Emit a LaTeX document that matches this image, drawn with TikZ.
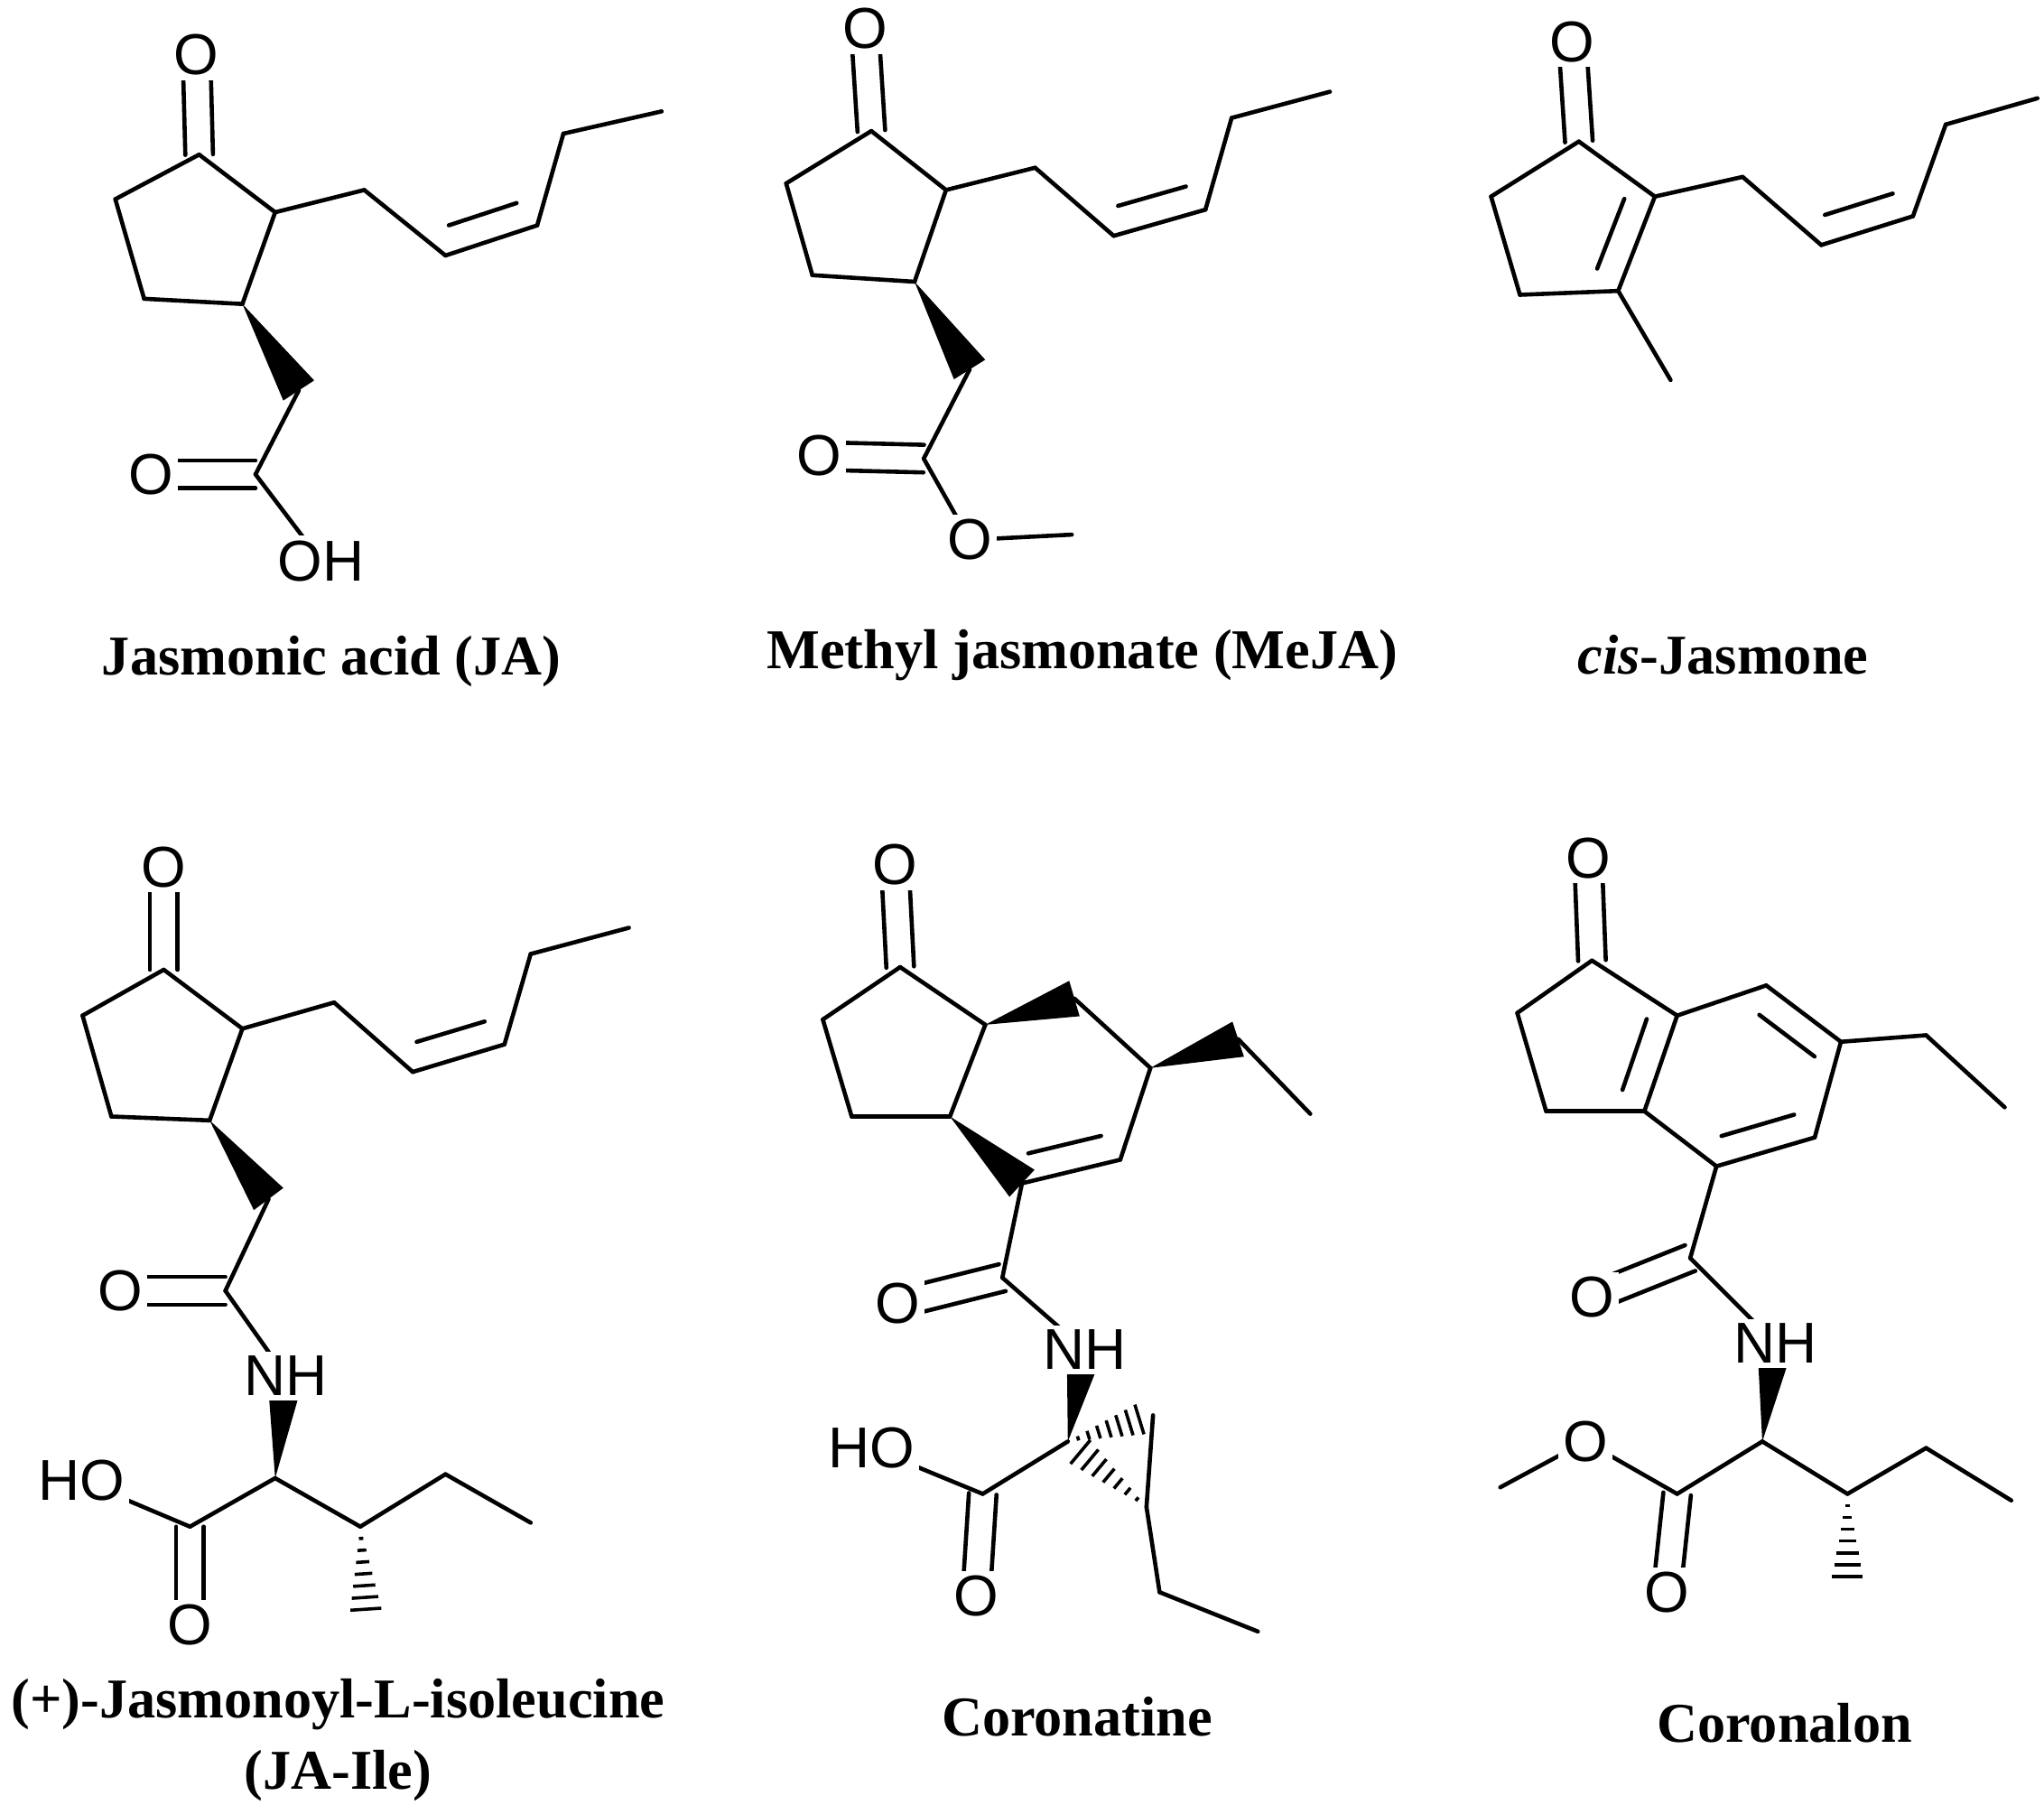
\documentclass[tikz,border=0pt]{standalone}
\usepackage{fontspec}
\setmainfont{Liberation Serif}
\newfontfamily\atomfont{Liberation Sans}
\usetikzlibrary{calc}
\tikzset{bondline/.style={line width=0.9pt,line cap=round,line join=round},
atomlab/.style={fill=white,inner sep=1pt,font=\atomfont\fontsize{12.5}{13}\selectfont},
namelab/.style={font=\bfseries\fontsize{12.2}{15.5}\selectfont,align=center}}
\newcommand\bnd[2]{\draw[bondline] (#1) -- (#2);}
\newcommand\dbnd[3]{\draw[bondline] (#1) -- (#2);
 \draw[bondline] ($(#1)!.13!(#2)!6pt!#3:(#2)$) -- ($(#2)!.13!(#1)!6pt!-#3:(#1)$);}
\newcommand\dbo[3]{\draw[bondline] ($(#1)!3pt!90:(#2)$) -- ($(#2)!3pt!-90:(#1)$);
 \draw[bondline] ($(#1)!3pt!-90:(#2)$) -- ($(#2)!3pt!90:(#1)$);}
\newcommand\wdg[2]{\fill (#1) -- ($(#2)!4pt!90:(#1)$) -- ($(#2)!4pt!-90:(#1)$) -- cycle;}
\newcommand\hsh[2]{\foreach \t in {0.12,0.24,...,0.96}{\draw[line width=0.7pt] ($(#1)!\t!(#2)!\t*4pt!90:(#2)$) -- ($(#1)!\t!(#2)!\t*4pt!-90:(#2)$);}}
\begin{document}
\begin{tikzpicture}[x=0.01cm,y=-0.01cm]
\useasboundingbox (0,0) rectangle (1560,1377);
%% JA
\coordinate (a1) at (152,118); \coordinate (a2) at (210,162); \coordinate (a3) at (185,232);
\coordinate (a4) at (110,228); \coordinate (a5) at (88,152); \coordinate (aO) at (150,42);
\coordinate (ac1) at (278,145); \coordinate (ac2) at (340,195); \coordinate (ac3) at (410,172);
\coordinate (ac4) at (430,102); \coordinate (ac5) at (505,85);
\coordinate (am) at (228,298); \coordinate (ak) at (195,362); \coordinate (aO2) at (115,362);
\coordinate (aOH) at (245,428);
\bnd{a1}{a2}\bnd{a2}{a3}\bnd{a3}{a4}\bnd{a4}{a5}\bnd{a5}{a1}\dbo{a1}{aO}{90}
\bnd{a2}{ac1}\bnd{ac1}{ac2}\dbnd{ac2}{ac3}{90}\bnd{ac3}{ac4}\bnd{ac4}{ac5}
\wdg{a3}{am}\bnd{am}{ak}\dbo{ak}{aO2}{90}\bnd{ak}{aOH}
\node[atomlab] at (aO) {O}; \node[atomlab] at (aO2) {O}; \node[atomlab] at (aOH) {OH};
\node[namelab] (n1) at (253,505) {Jasmonic acid (JA)};
%% MeJA
\coordinate (b1) at (665,100); \coordinate (b2) at (722,145); \coordinate (b3) at (698,215);
\coordinate (b4) at (620,210); \coordinate (b5) at (600,140); \coordinate (bO) at (660,22);
\coordinate (bc1) at (790,128); \coordinate (bc2) at (850,180); \coordinate (bc3) at (920,160);
\coordinate (bc4) at (940,90); \coordinate (bc5) at (1015,70);
\coordinate (bm) at (740,282); \coordinate (bk) at (705,350); \coordinate (bO2) at (625,348);
\coordinate (bOe) at (740,412); \coordinate (bme) at (818,408);
\bnd{b1}{b2}\bnd{b2}{b3}\bnd{b3}{b4}\bnd{b4}{b5}\bnd{b5}{b1}\dbo{b1}{bO}{90}
\bnd{b2}{bc1}\bnd{bc1}{bc2}\dbnd{bc2}{bc3}{90}\bnd{bc3}{bc4}\bnd{bc4}{bc5}
\wdg{b3}{bm}\bnd{bm}{bk}\dbo{bk}{bO2}{90}\bnd{bk}{bOe}\bnd{bOe}{bme}
\node[atomlab] at (bO) {O}; \node[atomlab] at (bO2) {O}; \node[atomlab] at (bOe) {O};
\node[namelab] (n2) at (826,500) {Methyl jasmonate (MeJA)};
%% cis-jasmone
\coordinate (c1) at (1205,108); \coordinate (c2) at (1263,150); \coordinate (c3) at (1235,222);
\coordinate (c4) at (1160,225); \coordinate (c5) at (1138,150); \coordinate (cO) at (1200,32);
\coordinate (cme) at (1275,290);
\coordinate (cc1) at (1330,135); \coordinate (cc2) at (1390,187); \coordinate (cc3) at (1460,165);
\coordinate (cc4) at (1485,95); \coordinate (cc5) at (1555,75);
\bnd{c1}{c2}\dbnd{c2}{c3}{-90}\bnd{c3}{c4}\bnd{c4}{c5}\bnd{c5}{c1}\dbo{c1}{cO}{90}\bnd{c3}{cme}
\bnd{c2}{cc1}\bnd{cc1}{cc2}\dbnd{cc2}{cc3}{90}\bnd{cc3}{cc4}\bnd{cc4}{cc5}
\node[atomlab] at (cO) {O};
\node[namelab] (n3) at (1315,500) {\textit{cis}-Jasmone};
%% JA-Ile
\coordinate (d1) at (125,740); \coordinate (d2) at (185,785); \coordinate (d3) at (160,855);
\coordinate (d4) at (85,852); \coordinate (d5) at (63,775); \coordinate (dO) at (125,662);
\coordinate (dc1) at (255,765); \coordinate (dc2) at (315,818); \coordinate (dc3) at (385,797);
\coordinate (dc4) at (405,728); \coordinate (dc5) at (480,708);
\coordinate (dm) at (205,915); \coordinate (dk) at (172,985); \coordinate (dO2) at (92,985);
\coordinate (dN) at (218,1050); \coordinate (da) at (210,1128); \coordinate (dk2) at (145,1165);
\coordinate (dHO) at (62,1130); \coordinate (dO3) at (145,1240);
\coordinate (db) at (275,1165); \coordinate (dbm) at (280,1240);
\coordinate (dg) at (340,1125); \coordinate (dd) at (405,1162);
\bnd{d1}{d2}\bnd{d2}{d3}\bnd{d3}{d4}\bnd{d4}{d5}\bnd{d5}{d1}\dbo{d1}{dO}{90}
\bnd{d2}{dc1}\bnd{dc1}{dc2}\dbnd{dc2}{dc3}{90}\bnd{dc3}{dc4}\bnd{dc4}{dc5}
\wdg{d3}{dm}\bnd{dm}{dk}\dbo{dk}{dO2}{90}\bnd{dk}{dN}\wdg{da}{dN}
\bnd{da}{dk2}\bnd{dk2}{dHO}\dbo{dk2}{dO3}{90}\bnd{da}{db}\hsh{db}{dbm}\bnd{db}{dg}\bnd{dg}{dd}
\node[atomlab] at (dO) {O}; \node[atomlab] at (dO2) {O}; \node[atomlab] at (dN) {NH};
\node[atomlab] at (dHO) {HO}; \node[atomlab] at (dO3) {O};
\node[namelab] (n4) at (258,1328) {(+)-Jasmonoyl-L-isoleucine\\(JA-Ile)};
%% Coronatine
\coordinate (e1) at (687,738); \coordinate (e7a) at (752,782); \coordinate (e3a) at (725,852);
\coordinate (e3) at (650,852); \coordinate (e2) at (628,778); \coordinate (eO) at (683,660);
\coordinate (e7) at (820,762); \coordinate (e6) at (878,815); \coordinate (e5) at (855,885);
\coordinate (e4) at (780,903);
\coordinate (ee1) at (945,793); \coordinate (ee2) at (1000,850);
\coordinate (ek) at (765,975); \coordinate (eO2) at (685,995); \coordinate (eN) at (828,1030);
\coordinate (ea) at (815,1100); \coordinate (ep1) at (880,1080); \coordinate (ep2) at (875,1150);
\coordinate (ek2) at (750,1140); \coordinate (eHO) at (665,1105); \coordinate (eO3) at (745,1218);
\coordinate (ef1) at (885,1215); \coordinate (ef2) at (960,1245);
\bnd{e1}{e7a}\bnd{e3a}{e3}\bnd{e3}{e2}\bnd{e2}{e1}\bnd{e7a}{e3a}\dbo{e1}{eO}{90}
\wdg{e7a}{e7}\bnd{e7}{e6}\bnd{e6}{e5}\dbnd{e5}{e4}{-90}\wdg{e3a}{e4}
\wdg{e6}{ee1}\bnd{ee1}{ee2}
\bnd{e4}{ek}\dbo{ek}{eO2}{90}\bnd{ek}{eN}\wdg{ea}{eN}
\hsh{ea}{ep1}\bnd{ep1}{ep2}\hsh{ep2}{ea}
\bnd{ea}{ek2}\bnd{ek2}{eHO}\dbo{ek2}{eO3}{90}\bnd{ep2}{ef1}\bnd{ef1}{ef2}
\node[atomlab] at (eO) {O}; \node[atomlab] at (eO2) {O}; \node[atomlab] at (eN) {NH};
\node[atomlab] at (eHO) {HO}; \node[atomlab] at (eO3) {O};
\node[namelab] (n5) at (822,1310) {Coronatine};
%% Coronalon
\coordinate (f1) at (1215,733); \coordinate (f7a) at (1280,775); \coordinate (f3a) at (1255,848);
\coordinate (f3) at (1180,848); \coordinate (f2) at (1158,773); \coordinate (fO) at (1212,655);
\coordinate (f7) at (1348,752); \coordinate (f6) at (1405,795); \coordinate (f5) at (1385,868);
\coordinate (f4) at (1310,890);
\coordinate (fe1) at (1470,790); \coordinate (fe2) at (1530,845);
\coordinate (fk) at (1290,960); \coordinate (fO2) at (1215,990); \coordinate (fN) at (1355,1025);
\coordinate (fa) at (1345,1100); \coordinate (fk2) at (1280,1140); \coordinate (fOe) at (1210,1100);
\coordinate (fme) at (1145,1135); \coordinate (fO3) at (1272,1215);
\coordinate (fb) at (1410,1140); \coordinate (fbm) at (1410,1215);
\coordinate (fg) at (1470,1105); \coordinate (fd) at (1535,1145);
\bnd{f1}{f7a}\bnd{f3a}{f3}\bnd{f3}{f2}\bnd{f2}{f1}\dbo{f1}{fO}{90}
\dbnd{f7a}{f3a}{-90}\bnd{f7a}{f7}\dbnd{f7}{f6}{-90}\bnd{f6}{f5}\dbnd{f5}{f4}{-90}\bnd{f4}{f3a}
\bnd{f6}{fe1}\bnd{fe1}{fe2}
\bnd{f4}{fk}\dbo{fk}{fO2}{90}\bnd{fk}{fN}\wdg{fa}{fN}
\bnd{fa}{fk2}\bnd{fk2}{fOe}\bnd{fOe}{fme}\dbo{fk2}{fO3}{90}
\bnd{fa}{fb}\hsh{fb}{fbm}\bnd{fb}{fg}\bnd{fg}{fd}
\node[atomlab] at (fO) {O}; \node[atomlab] at (fO2) {O}; \node[atomlab] at (fN) {NH};
\node[atomlab] at (fOe) {O}; \node[atomlab] at (fO3) {O};
\node[namelab] (n6) at (1362,1315) {Coronalon};
\end{tikzpicture}
\end{document}
